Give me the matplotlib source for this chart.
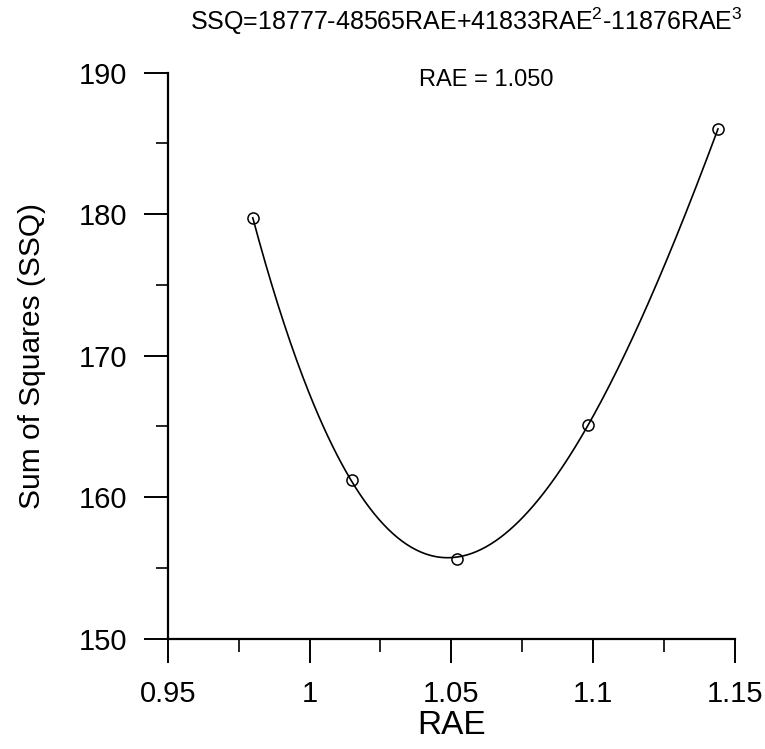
import numpy as np
import matplotlib
matplotlib.use("Agg")
import matplotlib.pyplot as plt
from matplotlib.ticker import MultipleLocator

plt.rcParams['font.family'] = ['Liberation Sans', 'DejaVu Sans']
plt.rcParams['mathtext.fontset'] = 'custom'
plt.rcParams['mathtext.rm'] = 'Liberation Sans'
plt.rcParams['mathtext.it'] = 'Liberation Sans'
plt.rcParams['mathtext.bf'] = 'Liberation Sans'

rae = [0.980, 1.015, 1.052, 1.098, 1.144]
ssq = [179.7, 161.2, 155.6, 165.1, 186.0]

x_ticks = [0.95, 1.0, 1.05, 1.1, 1.15]
x_tick_labels = ['0.95', '1', '1.05', '1.1', '1.15']
y_ticks = [150, 160, 170, 180, 190]

title_text = 'SSQ=18777-48565RAE+41833RAE$^2$-11876RAE$^3$'
best_text = 'RAE = 1.050'

# cubic fit through the measured points
coef = np.polyfit(rae, ssq, 3)
xx = np.linspace(min(rae), max(rae), 300)
yy = np.polyval(coef, xx)

fig = plt.figure(figsize=(7.65, 7.49), dpi=100)
ax = fig.add_axes([0.2192, 0.1475, 0.7416, 0.7555])

ax.plot(xx, yy, color='black', linewidth=1.2)
ax.plot(rae, ssq, linestyle='none', marker='o', markersize=8,
        markerfacecolor='none', markeredgecolor='black', markeredgewidth=1.1)

ax.set_xlim(0.95, 1.15)
ax.set_ylim(150, 190)
ax.set_xticks(x_ticks)
ax.set_xticklabels(x_tick_labels)
ax.set_yticks(y_ticks)
ax.xaxis.set_minor_locator(MultipleLocator(0.025))
ax.yaxis.set_minor_locator(MultipleLocator(5))

for side in ['top', 'right']:
    ax.spines[side].set_visible(False)
for side in ['left', 'bottom']:
    ax.spines[side].set_linewidth(1.6)

ax.tick_params(which='major', direction='out', length=17, width=1.4,
               labelsize=21, pad=12)
ax.tick_params(axis='x', which='major', pad=13)
ax.tick_params(which='minor', direction='out', length=9, width=1.2)

ax.set_xlabel('RAE', fontsize=24, labelpad=1)
ax.set_ylabel('Sum of Squares (SSQ)', fontsize=21.5, labelpad=24)

fig.text(0.609, 0.971, title_text, fontsize=18, ha='center', va='center')
ax.text(0.561, 0.987, best_text, transform=ax.transAxes, fontsize=17,
        ha='center', va='center')

fig.savefig('out.png', dpi=100)
